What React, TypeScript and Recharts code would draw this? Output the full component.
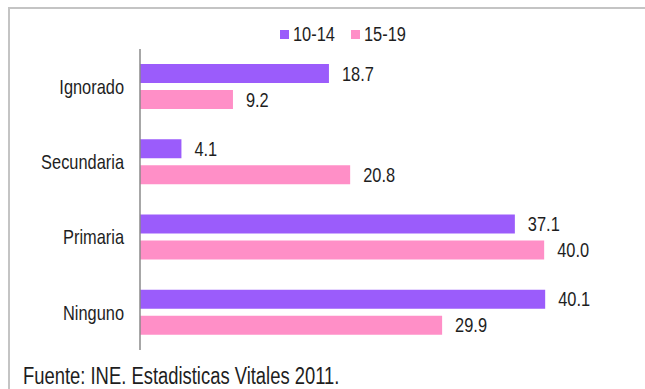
import React from 'react';
import { BarChart, Bar, XAxis, YAxis, Legend, LabelList } from 'recharts';

// nivel educativo de la madre, por grupo de edad (%)
const categories = ['Ignorado', 'Secundaria', 'Primaria', 'Ninguno'];
const edad10a14 = [18.7, 4.1, 37.1, 40.1];
const edad15a19 = [9.2, 20.8, 40.0, 29.9];
const seriesNames = ['10-14', '15-19'];

const data = categories.map((name, i) => ({ name, a: edad10a14[i], b: edad15a19[i] }));

const FONT = '"Liberation Sans", Arial, sans-serif';
const NARROW = 0.82; // imita Arial Narrow
const PURPLE = '#9b5cfb';
const PINK = '#ff8fc7';
const INK = '#1e1e1e';

function NarrowTick(props: any) {
  const { x, y, payload } = props;
  return (
    <text transform={`translate(${x},${y}) scale(${NARROW},1)`} textAnchor="end" dy="0.36em" fill={INK} fontSize={20} fontFamily={FONT}>
      {payload.value}
    </text>
  );
}

function ValueLabel(props: any) {
  const { x, y, width, height, value } = props;
  const tx = Number(x) + Number(width) + 13;
  const ty = Number(y) + Number(height) / 2;
  return (
    <text transform={`translate(${tx},${ty}) scale(${NARROW},1)`} dy="0.36em" fill={INK} fontSize={20} fontFamily={FONT}>
      {Number(value).toFixed(1)}
    </text>
  );
}

function LegendTop(props: any) {
  const { payload = [] } = props;
  return (
    <div style={{ display: 'flex', fontFamily: FONT, fontSize: 20, color: INK, lineHeight: '22px' }}>
      {payload.map((p: any) => (
        <span key={p.value} style={{ display: 'flex', alignItems: 'center', width: 71 }}>
          <span style={{ width: 9, height: 9, background: p.color, display: 'inline-block', marginRight: 4 }} />
          <span style={{ display: 'inline-block', transform: `scaleX(${NARROW})`, transformOrigin: 'left center' }}>{p.value}</span>
        </span>
      ))}
    </div>
  );
}

export default function App() {
  return (
    <div style={{ position: 'absolute', left: 0, top: 0, width: 645, height: 389, background: '#fff', overflow: 'hidden' }}>
      <div style={{ position: 'absolute', left: 8, top: 7, width: 700, height: 500, borderTop: '2px solid #c4c4c4', borderLeft: '2px solid #c4c4c4' }} />
      <div style={{ position: 'absolute', left: 0, top: 0 }}>
        <BarChart
          width={645}
          height={389}
          data={data}
          layout="vertical"
          margin={{ top: 49, right: 20, bottom: 39, left: 0 }}
          barSize={19}
          barGap={7}
        >
          <XAxis type="number" domain={[0, 48]} hide />
          <YAxis
            type="category"
            dataKey="name"
            width={140}
            axisLine={{ stroke: '#8a8a8a', strokeWidth: 1.5 }}
            tickLine={false}
            tickSize={0}
            tickMargin={16}
            tick={<NarrowTick />}
          />
          <Legend
            layout="horizontal"
            verticalAlign="middle"
            align="center"
            content={<LegendTop />}
            wrapperStyle={{ top: 23, left: 280, width: 200 }}
          />
          <Bar dataKey="a" name={seriesNames[0]} fill={PURPLE} isAnimationActive={false}>
            <LabelList dataKey="a" content={<ValueLabel />} />
          </Bar>
          <Bar dataKey="b" name={seriesNames[1]} fill={PINK} isAnimationActive={false}>
            <LabelList dataKey="b" content={<ValueLabel />} />
          </Bar>
        </BarChart>
      </div>
      <div style={{ position: 'absolute', left: 23, top: 363, fontFamily: FONT, fontSize: 23, color: INK, whiteSpace: 'nowrap', transform: 'scaleX(0.8)', transformOrigin: 'left top' }}>
        Fuente: INE. Estadisticas Vitales 2011.
      </div>
    </div>
  );
}
